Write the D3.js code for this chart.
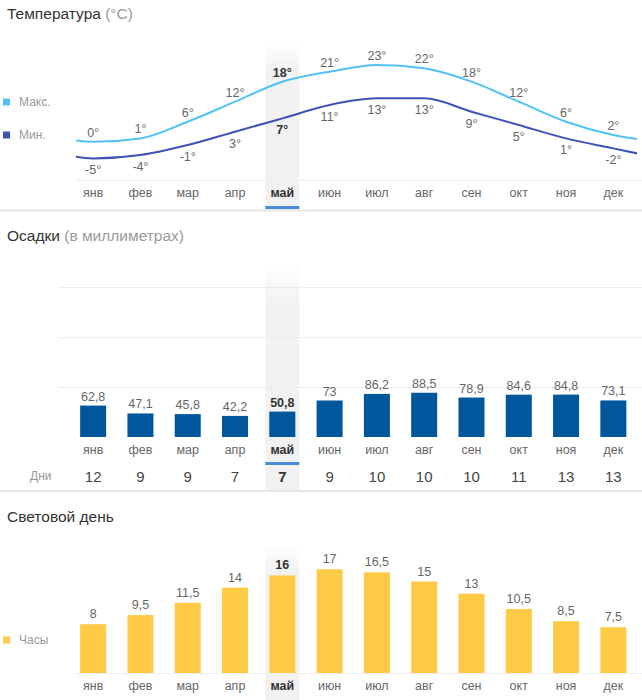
<!DOCTYPE html>
<html><head><meta charset="utf-8">
<script src="https://cdn.jsdelivr.net/npm/d3@7"></script>
<style>
html,body{margin:0;padding:0;background:#fff;}
svg{display:block;font-family:"Liberation Sans",Arial,sans-serif;}
</style></head>
<body>
<svg id="c" width="642" height="700"></svg>
<script>
const months = ["янв","фев","мар","апр","май","июн","июл","авг","сен","окт","ноя","дек"];
const tempMax = [0,1,6,12,18,21,23,22,18,12,6,2];
const tempMin = [-5,-4,-1,3,7,11,13,13,9,5,1,-2];
const precip = [62.8,47.1,45.8,42.2,50.8,73,86.2,88.5,78.9,84.6,84.8,73.1];
const rainDays = [12,9,9,7,7,9,10,10,10,11,13,13];
const daylight = [8,9.5,11.5,14,16,17,16.5,15,13,10.5,8.5,7.5];
const precipGrid = [100,200,300];
const selected = 4;

const fmt = v => String(v).replace(".", ",");
const svg = d3.select("#c");
const W = 642;

const x = d3.scaleBand().domain(d3.range(12)).range([69.5, 637]).paddingInner(0.45).paddingOuter(0.225);
const step = x.step();
const cx = i => x(i) + x.bandwidth()/2;
// center position allowing out-of-range indices for the cyclic wrap
const cxi = i => cx(0) + i*step;

const defs = svg.append("defs");
const grad = defs.append("linearGradient").attr("id","hl").attr("x1",0).attr("y1",0).attr("x2",0).attr("y2",1);
grad.append("stop").attr("offset","0%").attr("stop-color","#f2f2f2").attr("stop-opacity",0);
grad.append("stop").attr("offset","18%").attr("stop-color","#f2f2f2").attr("stop-opacity",1);
grad.append("stop").attr("offset","100%").attr("stop-color","#f1f1f1").attr("stop-opacity",1);
defs.append("clipPath").attr("id","tclip").append("rect").attr("x",76).attr("y",40).attr("width",561).attr("height",140);

const hlX = cx(selected) - 17, hlW = 34;
// highlight bands
[[40,210],[262,490],[545,700]].forEach(([a,b])=>{
  svg.append("rect").attr("x",hlX).attr("y",a).attr("width",hlW).attr("height",b-a).attr("fill","url(#hl)");
});

function title(y, main, sub){
  const t = svg.append("text").attr("x",7).attr("y",y).attr("font-size",15.5).attr("fill","#333");
  t.append("tspan").text(main);
  if (sub) t.append("tspan").attr("fill","#999").text(" " + sub);
}
function legend(y, color, label){
  svg.append("rect").attr("x",3).attr("y",y-3.5).attr("width",7).attr("height",7).attr("fill",color);
  svg.append("text").attr("x",19).attr("y",y+4).attr("font-size",12).attr("fill","#999").text(label);
}
function monthLabels(y){
  svg.append("g").selectAll("text").data(months).join("text")
    .attr("x",(d,i)=>cx(i)).attr("y",y).attr("text-anchor","middle")
    .attr("font-size",12.5)
    .attr("font-weight",(d,i)=>i===selected?"bold":"normal")
    .attr("fill",(d,i)=>i===selected?"#333":"#666").text(d=>d);
}

// ===== Temperature =====
title(19, "Температура", "(°C)");
legend(102, "#4fc3f7", "Макс.");
legend(135, "#3f51b5", "Мин.");
const yT = d3.scaleLinear().domain([-5,23]).range([158.4,65]);
svg.append("line").attr("x1",76).attr("x2",W).attr("y1",180.5).attr("y2",180.5).attr("stroke","#eee");
const tline = d3.line().x(d=>cxi(d.i)).y(d=>yT(d.v)).curve(d3.curveMonotoneX);
function wrapSeries(arr){
  const pts = arr.map((v,i)=>({i,v}));
  return [{i:-1,v:arr[11]}, ...pts, {i:12,v:arr[0]}];
}
const tg = svg.append("g").attr("clip-path","url(#tclip)");
tg.append("path").attr("d",tline(wrapSeries(tempMax))).attr("fill","none").attr("stroke","#4fc3f7").attr("stroke-width",2);
tg.append("path").attr("d",tline(wrapSeries(tempMin))).attr("fill","none").attr("stroke","#3f51b5").attr("stroke-width",2);
svg.append("g").selectAll("text").data(tempMax).join("text")
  .attr("x",(d,i)=>cx(i)).attr("y",d=>yT(d)-5).attr("text-anchor","middle").attr("font-size",12.5)
  .attr("font-weight",(d,i)=>i===selected?"bold":"normal")
  .attr("fill",(d,i)=>i===selected?"#333":"#666").text(d=>d+"°");
svg.append("g").selectAll("text").data(tempMin).join("text")
  .attr("x",(d,i)=>cx(i)).attr("y",d=>yT(d)+16).attr("text-anchor","middle").attr("font-size",12.5)
  .attr("font-weight",(d,i)=>i===selected?"bold":"normal")
  .attr("fill",(d,i)=>i===selected?"#333":"#666").text(d=>d+"°");
monthLabels(196.5);
svg.append("rect").attr("x",hlX).attr("y",206).attr("width",hlW).attr("height",3).attr("fill","#4a8ad8");
svg.append("rect").attr("x",0).attr("y",209.5).attr("width",W).attr("height",2).attr("fill","#e6e6e6");

// ===== Precipitation =====
title(241, "Осадки", "(в миллиметрах)");
const yP = d3.scaleLinear().domain([0,300]).range([437,287]);
svg.append("g").selectAll("line").data(precipGrid).join("line")
  .attr("x1",58).attr("x2",W).attr("y1",d=>Math.round(yP(d))+0.5).attr("y2",d=>Math.round(yP(d))+0.5)
  .attr("stroke","#ececec");
svg.append("g").selectAll("rect").data(precip).join("rect")
  .attr("x",(d,i)=>x(i)).attr("width",x.bandwidth())
  .attr("y",d=>yP(d)).attr("height",d=>yP(0)-yP(d)).attr("fill","#01579b");
svg.append("g").selectAll("text").data(precip).join("text")
  .attr("x",(d,i)=>cx(i)).attr("y",d=>yP(d)-5).attr("text-anchor","middle").attr("font-size",12.5)
  .attr("font-weight",(d,i)=>i===selected?"bold":"normal")
  .attr("fill",(d,i)=>i===selected?"#333":"#666").text(d=>fmt(d));
monthLabels(453.5);
svg.append("rect").attr("x",hlX).attr("y",462).attr("width",hlW).attr("height",3).attr("fill","#4a8ad8");
svg.append("text").attr("x",30).attr("y",480).attr("font-size",12).attr("fill","#999").text("Дни");
svg.append("g").selectAll("text").data(rainDays).join("text")
  .attr("x",(d,i)=>cx(i)).attr("y",482).attr("text-anchor","middle").attr("font-size",15)
  .attr("font-weight",(d,i)=>i===selected?"bold":"normal")
  .attr("fill",(d,i)=>i===selected?"#333":"#444").text(d=>d);
svg.append("rect").attr("x",0).attr("y",490).attr("width",W).attr("height",2).attr("fill","#e6e6e6");

// ===== Daylight =====
title(522, "Световой день", null);
legend(640, "#ffca45", "Часы");
const yD = d3.scaleLinear().domain([0,24]).range([673,526.6]);
svg.append("line").attr("x1",75).attr("x2",W).attr("y1",673.5).attr("y2",673.5).attr("stroke","#eee");
svg.append("g").selectAll("rect").data(daylight).join("rect")
  .attr("x",(d,i)=>x(i)).attr("width",x.bandwidth())
  .attr("y",d=>yD(d)).attr("height",d=>yD(0)-yD(d)).attr("fill","#ffca45");
svg.append("g").selectAll("text").data(daylight).join("text")
  .attr("x",(d,i)=>cx(i)).attr("y",d=>yD(d)-6).attr("text-anchor","middle").attr("font-size",12.5)
  .attr("font-weight",(d,i)=>i===selected?"bold":"normal")
  .attr("fill",(d,i)=>i===selected?"#333":"#666").text(d=>fmt(d));
monthLabels(690);
</script>
</body></html>
